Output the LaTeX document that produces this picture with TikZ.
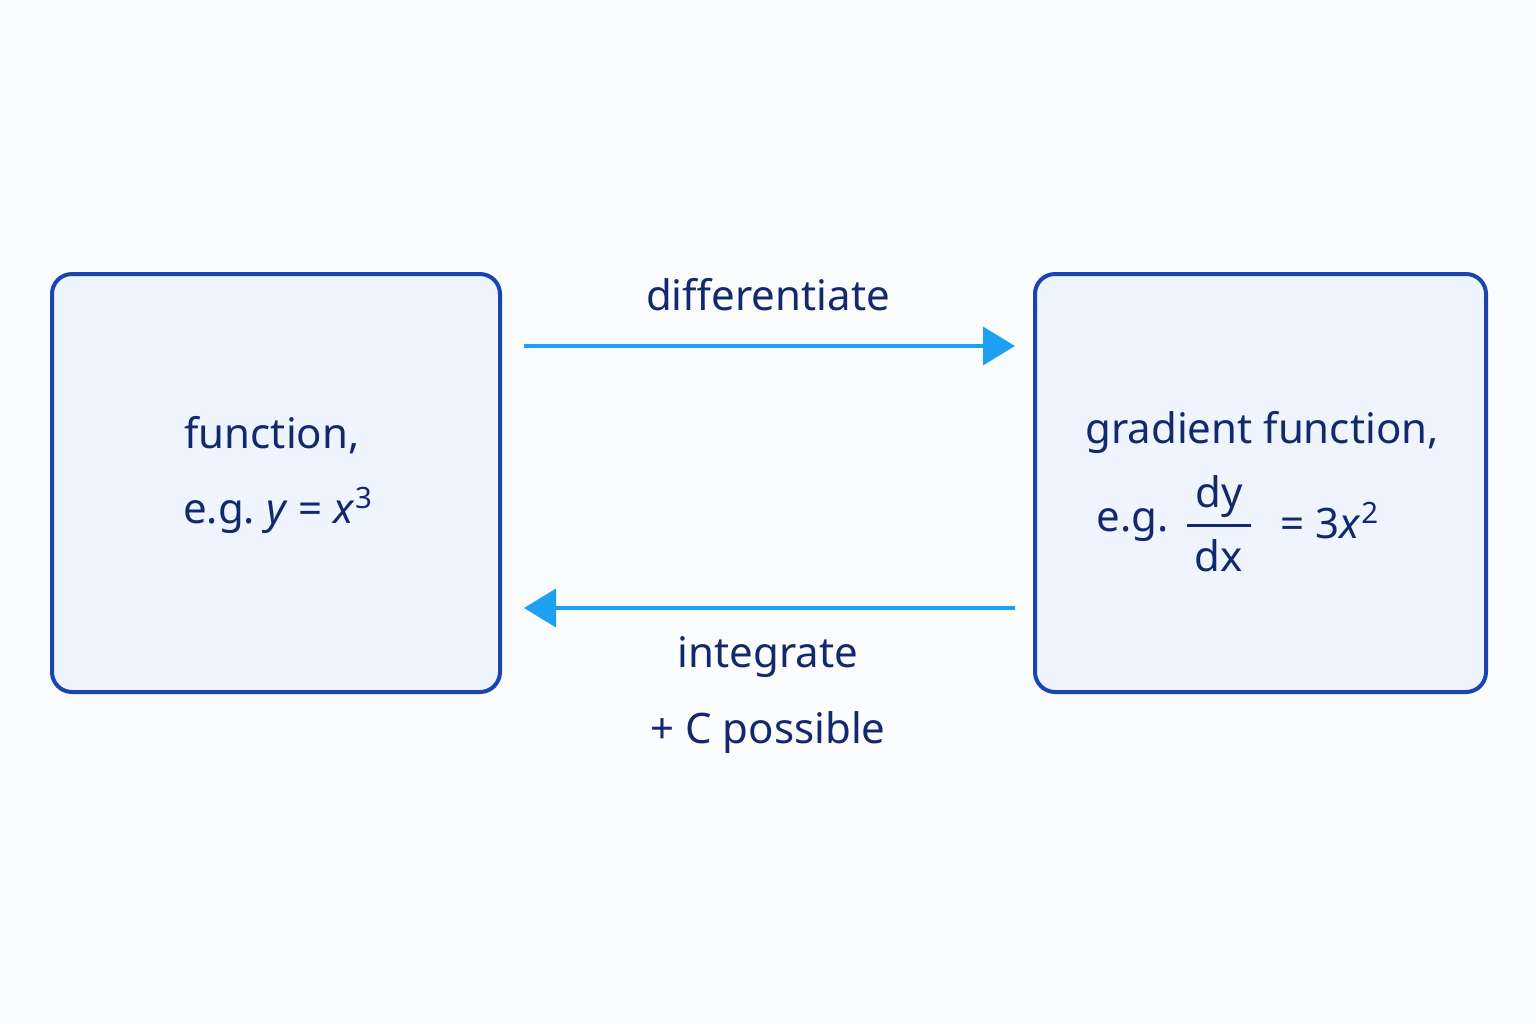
\documentclass[tikz,border=0pt]{standalone}
\usepackage{fontspec}
\setmainfont{Noto Sans}
\usetikzlibrary{arrows.meta}
\definecolor{bg}{HTML}{FBFCFD}
\definecolor{boxfill}{HTML}{EEF5FE}
\definecolor{boxline}{HTML}{1A45B0}
\definecolor{arr}{HTML}{1EA0F0}
\definecolor{txt}{HTML}{14286E}
\begin{document}
\begin{tikzpicture}[x=0.5pt,y=-0.5pt,
  box/.style={draw=boxline,line width=2pt,fill=boxfill,rounded corners=10pt},
  lbl/.style={text=txt,font=\fontsize{21}{25}\selectfont,inner sep=0pt},
  conn/.style={draw=arr,line width=2pt,-{Triangle[length=16pt,width=19pt]}}]
\fill[bg] (0,0) rectangle (1536,1024);
\useasboundingbox (0,0) rectangle (1536,1024);
\draw[box] (52,274) rectangle (500,692);
\draw[box] (1035,274) rectangle (1486,692);
\coordinate (t1) at (524,346); \coordinate (t2) at (1015,346);
\coordinate (b1) at (1015,608); \coordinate (b2) at (524,608);
\draw[conn] (t1) -- (t2);
\draw[conn] (b1) -- (b2);
\node[lbl] (diff) at (768,295) {differentiate};
\node[lbl] (integ) at (768,657) {integrate};
\node[lbl] (plusc) at (768,733) {+ C possible};
\node[lbl] (f1) at (272,435) {function,};
\node[lbl] (f2) at (278,510) {e.g.\ \textit{y} = \textit{x}\textsuperscript{3}};
\node[lbl] (g1) at (1262,432) {gradient function,};
\node[lbl] (g2) at (1133,525) {e.g.};
\node[lbl] (dy) at (1219,497) {dy};
\node[lbl] (dx) at (1219,556) {dx};
\draw[txt,line width=1.5pt] (1187,525) -- (1251,525);
\node[lbl] (g3) at (1330,521) {= 3\textit{x}\textsuperscript{2}};
\end{tikzpicture}
\end{document}
